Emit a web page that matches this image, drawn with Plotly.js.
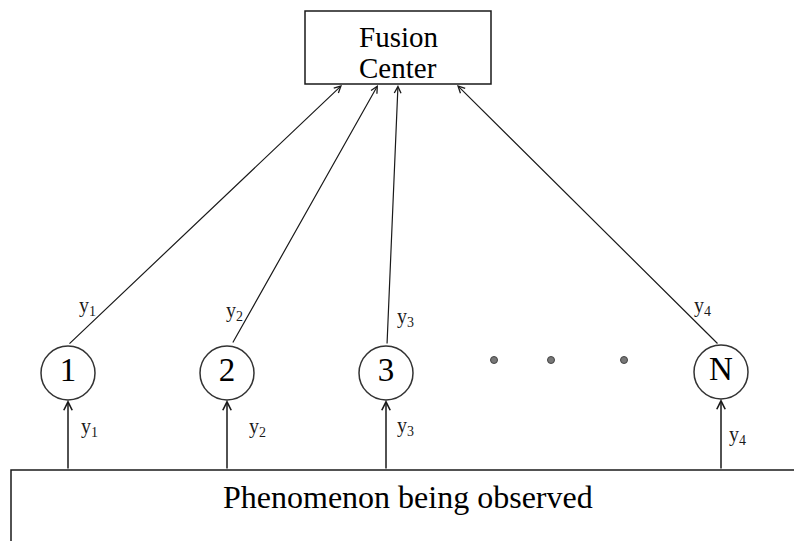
<!DOCTYPE html>
<html>
<head>
<meta charset="utf-8">
<script src="https://cdn.plot.ly/plotly-3.0.1.min.js"></script>
<style>html,body{margin:0;padding:0;background:#fff;}#chart{width:794px;height:541px;}</style>
</head>
<body>
<div id="chart"></div>
<script>
// ---- diagram data ----
var nodeLabels = ['1', '2', '3', 'N'];
var nodeX = [68, 227, 386, 721];
var nodeY = [373, 373, 373, 372];

// uplinks: sensor -> fusion center
var upStartX = [68, 232, 387, 719];
var upStartY = [345, 344, 345, 345];
var upEndX = [342, 378, 398, 457];
var upEndY = [85, 85, 85, 85];
var upLabels = ['y<sub>1</sub>', 'y<sub>2</sub>', 'y<sub>3</sub>', 'y<sub>4</sub>'];
var upLabelX = [87, 234, 405, 702];
var upLabelY = [306, 311, 317, 306];

// observation links: phenomenon -> sensor
var obsStartY = [470, 470, 470, 470];
var obsEndY = [400, 400, 400, 399];
var obsLabels = ['y<sub>1</sub>', 'y<sub>2</sub>', 'y<sub>3</sub>', 'y<sub>4</sub>'];
var obsLabelX = [89, 257, 405, 737];
var obsLabelY = [427, 427, 426, 435];

// ellipsis dots
var dotX = [494, 551, 624];
var dotY = [360, 360, 360];

// boxes
var fusionLines = ['Fusion', 'Center'];
var fusionLineX = [398, 398];
var fusionLineY = [37, 68];
var fusionBox = [305, 11, 491, 84];
var phenomenonText = 'Phenomenon being observed';
var phenomenonBox = [11, 470, 810, 560];

var serif = 'Liberation Serif, Times New Roman, serif';
var ink = '#1a1a1a';

var annotations = [];
for (var i = 0; i < nodeX.length; i++) {
  annotations.push({
    x: upEndX[i], y: upEndY[i], ax: upStartX[i], ay: upStartY[i],
    xref: 'x', yref: 'y', axref: 'x', ayref: 'y',
    text: '', showarrow: true, arrowhead: 5, arrowsize: 1.1, arrowwidth: 1.2,
    arrowcolor: ink, standoff: 0, startstandoff: 0
  });
  annotations.push({
    x: nodeX[i], y: obsEndY[i], ax: nodeX[i], ay: obsStartY[i],
    xref: 'x', yref: 'y', axref: 'x', ayref: 'y',
    text: '', showarrow: true, arrowhead: 5, arrowsize: 1.1, arrowwidth: 1.5,
    arrowcolor: ink, standoff: 0, startstandoff: 0
  });
  annotations.push({
    x: upLabelX[i], y: upLabelY[i], xref: 'x', yref: 'y', text: upLabels[i],
    showarrow: false, font: {family: serif, size: 20, color: ink}
  });
  annotations.push({
    x: obsLabelX[i], y: obsLabelY[i], xref: 'x', yref: 'y', text: obsLabels[i],
    showarrow: false, font: {family: serif, size: 20, color: ink}
  });
}
for (var j = 0; j < fusionLines.length; j++) {
  annotations.push({
    x: fusionLineX[j], y: fusionLineY[j], xref: 'x', yref: 'y', text: fusionLines[j],
    showarrow: false, font: {family: serif, size: 29, color: '#000'}
  });
}
annotations.push({
  x: 408, y: 497, xref: 'x', yref: 'y', text: phenomenonText,
  showarrow: false, font: {family: serif, size: 32, color: '#000'}
});

var traces = [
  {
    type: 'scatter', mode: 'markers+text', x: nodeX, y: nodeY, text: nodeLabels,
    textposition: 'middle center', hoverinfo: 'skip',
    textfont: {family: serif, size: 33, color: '#000'},
    marker: {symbol: 'circle', size: 54, color: '#fff', line: {color: '#333', width: 1.5}}
  },
  {
    type: 'scatter', mode: 'markers', x: dotX, y: dotY, hoverinfo: 'skip',
    marker: {symbol: 'circle', size: 7, color: '#777', line: {color: '#444', width: 1}}
  }
];

var layout = {
  width: 794, height: 541,
  margin: {l: 0, r: 0, t: 0, b: 0},
  paper_bgcolor: '#fff', plot_bgcolor: '#fff',
  showlegend: false,
  xaxis: {range: [0, 794], visible: false, fixedrange: true},
  yaxis: {range: [541, 0], visible: false, fixedrange: true},
  shapes: [
    {type: 'rect', xref: 'x', yref: 'y', x0: fusionBox[0], y0: fusionBox[1], x1: fusionBox[2], y1: fusionBox[3],
     line: {color: ink, width: 1.5}, fillcolor: 'rgba(0,0,0,0)'},
    {type: 'rect', xref: 'x', yref: 'y', x0: phenomenonBox[0], y0: phenomenonBox[1], x1: phenomenonBox[2], y1: phenomenonBox[3],
     line: {color: ink, width: 1.5}, fillcolor: 'rgba(0,0,0,0)'}
  ],
  annotations: annotations
};

Plotly.newPlot('chart', traces, layout, {staticPlot: true, displayModeBar: false});
</script>
</body>
</html>
